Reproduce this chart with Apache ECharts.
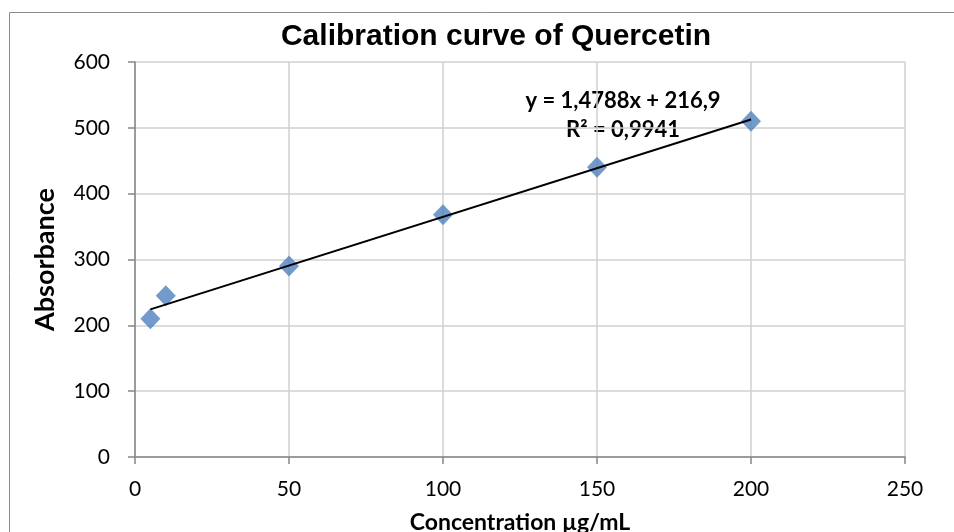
<!DOCTYPE html>
<html>
<head>
<meta charset="utf-8">
<script src="https://cdn.jsdelivr.net/npm/echarts@6/dist/echarts.min.js"></script>
<style>
  html, body { margin: 0; padding: 0; background: #fff; }
  #chart { width: 954px; height: 532px; }
</style>
</head>
<body>
<div id="chart"></div>
<script>
// data
const concentration = [5, 10, 50, 100, 150, 200];
const absorbance = [210, 245, 290, 368, 440, 510];
const trendX = [5, 200];
const trendY = [224.3, 512.7];
const xTicks = [0, 50, 100, 150, 200, 250];
const yTicks = [0, 100, 200, 300, 400, 500, 600];

const chart = echarts.init(document.getElementById("chart"), null, { renderer: "canvas" });

const font = "Lato, 'Open Sans', sans-serif";
const axisGray = "#868686";
const gridGray = "#d0d0d0";

chart.setOption({
	animation: false,
	backgroundColor: "#fff",
	title: {
		text: "Calibration curve of Quercetin",
		left: 491, top: 17, textAlign: "center",
		textStyle: { fontFamily: "'Liberation Sans', Arial, sans-serif", fontSize: 30, fontWeight: "bold", color: "#000" }
	},
	graphic: [{
		type: "rect", silent: true,
		shape: { x: 9.5, y: 12.5, width: 1000, height: 600 },
		style: { fill: "none", stroke: "#8c8c8c", lineWidth: 1 }
	}, {
		type: "text", x: 623, y: 101,
		style: { text: "y = 1,4788x + 216,9", font: "bold 22px " + font, fill: "#000", align: "center", verticalAlign: "middle" }
	}, {
		type: "text", x: 623, y: 130,
		style: { text: "R² = 0,9941", font: "bold 22px " + font, fill: "#000", align: "center", verticalAlign: "middle" }
	}],
	grid: { left: 135, right: 49, top: 62, bottom: 75, containLabel: false, outerBoundsMode: "none" },
	xAxis: {
		type: "value", min: xTicks[0], max: xTicks[xTicks.length - 1], interval: 50,
		name: "Concentration µg/mL", nameLocation: "middle", nameGap: 54,
		nameTextStyle: { fontFamily: font, fontSize: 23, fontWeight: "bold", color: "#000" },
		axisLine: { onZero: false, lineStyle: { color: axisGray, width: 1.5 } },
		axisTick: { show: true, length: 7, lineStyle: { color: axisGray, width: 1.5 } },
		axisLabel: { fontFamily: font, fontSize: 21, color: "#000", margin: 22 },
		splitLine: { show: true, lineStyle: { color: gridGray, width: 1.5 } }
	},
	yAxis: {
		type: "value", min: yTicks[0], max: yTicks[yTicks.length - 1], interval: 100,
		name: "Absorbance", nameLocation: "middle", nameGap: 76,
		nameTextStyle: { fontFamily: font, fontSize: 27, fontWeight: "bold", color: "#000" },
		axisLine: { show: true, lineStyle: { color: axisGray, width: 1.5 } },
		axisTick: { show: true, length: 7, lineStyle: { color: axisGray, width: 1.5 } },
		axisLabel: { fontFamily: font, fontSize: 21, color: "#000", margin: 25 },
		splitLine: { show: true, lineStyle: { color: gridGray, width: 1.5 } }
	},
	series: [{
		type: "line",
		data: trendX.map((x, i) => [x, trendY[i]]),
		showSymbol: false, symbol: "none",
		lineStyle: { color: "#000", width: 2 },
		z: 3
	}, {
		type: "scatter",
		data: concentration.map((x, i) => [x, absorbance[i]]),
		symbol: "diamond", symbolSize: [20, 21],
		itemStyle: { color: "#4F81BD" },
		z: 2
	}]
});
</script>
</body>
</html>
